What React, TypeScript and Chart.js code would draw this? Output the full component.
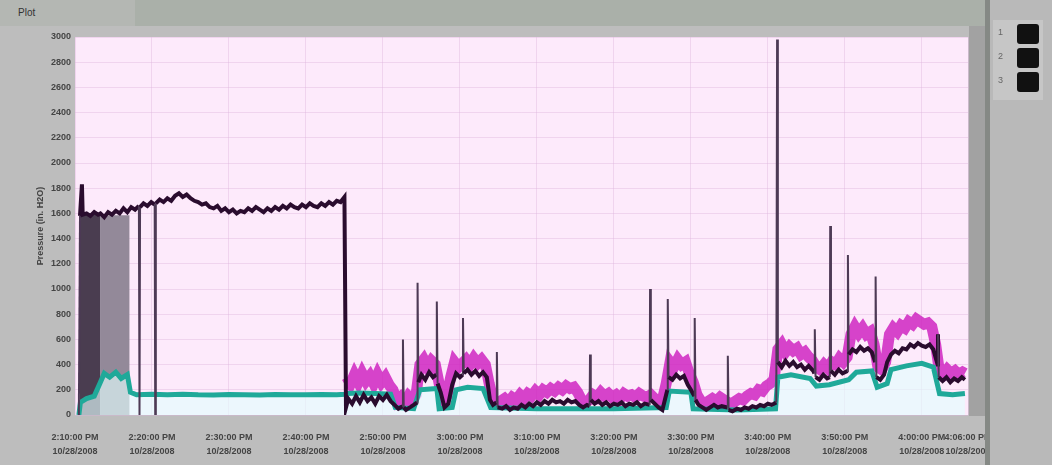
import React, { useEffect, useRef } from "react";
import { Chart, registerables } from "chart.js";
Chart.register(...registerables);

// ---------- data ----------
const yTitle = "Pressure (in. H2O)";
const chartTitle = "Plot";
const legendLabels = ["1", "2", "3"];

const xTickValues = [0, 10, 20, 30, 40, 50, 60, 70, 80, 90, 100, 110, 116];
const xTimeLabels = [
  "2:10:00 PM", "2:20:00 PM", "2:30:00 PM", "2:40:00 PM", "2:50:00 PM", "3:00:00 PM",
  "3:10:00 PM", "3:20:00 PM", "3:30:00 PM", "3:40:00 PM", "3:50:00 PM", "4:00:00 PM", "4:06:00 PM",
];
const xDateLabels = [
  "10/28/2008", "10/28/2008", "10/28/2008", "10/28/2008", "10/28/2008", "10/28/2008",
  "10/28/2008", "10/28/2008", "10/28/2008", "10/28/2008", "10/28/2008", "10/28/2008", "10/28/2008",
];

const darkSeries: [number, number][] = [
  [0.5, 0], [0.65, 1580], [0.9, 1830], [1.0, 1590], [1.5, 1600], [2.0, 1580], [2.5, 1610], [3.0, 1590],
  [3.3, 1600], [3.8, 1570], [4.3, 1610], [4.8, 1590], [5.3, 1620], [5.8, 1600], [6.3, 1640], [6.8, 1610],
  [7.3, 1650], [7.8, 1630], [8.3, 1660], [8.38, 0], [8.45, 1650], [8.9, 1680], [9.4, 1660], [9.9, 1690],
  [10.35, 1670], [10.42, 0], [10.5, 1680], [11.0, 1710], [11.5, 1690], [12.0, 1720], [12.5, 1700],
  [13.0, 1740], [13.5, 1760], [14.0, 1730], [14.5, 1750], [15.0, 1720], [15.5, 1700], [16.0, 1690],
  [16.5, 1670], [17.0, 1680], [17.5, 1650], [18.0, 1640], [18.5, 1660], [19.0, 1620], [19.5, 1640],
  [20.0, 1610], [20.5, 1630], [21.0, 1600], [21.5, 1620], [22.0, 1610], [22.5, 1640], [23.0, 1620],
  [23.5, 1650], [24.0, 1630], [24.5, 1610], [25.0, 1640], [25.5, 1620], [26.0, 1650], [26.5, 1630],
  [27.0, 1660], [27.5, 1640], [28.0, 1670], [28.5, 1650], [29.0, 1640], [29.5, 1670], [30.0, 1650],
  [30.5, 1680], [31.0, 1660], [31.5, 1650], [32.0, 1680], [32.5, 1660], [33.0, 1690], [33.5, 1670],
  [34.0, 1700], [34.5, 1690], [35.0, 1730], [35.2, 60],
  [35.5, 130], [36.0, 90], [36.5, 150], [37.0, 100], [37.5, 160], [38.0, 110], [38.5, 140], [39.0, 90],
  [39.5, 150], [40.0, 120], [40.5, 160], [41.0, 110], [41.5, 80], [42.0, 50], [42.55, 70], [42.6, 600],
  [42.7, 60], [43.0, 40], [43.5, 60], [44.0, 80], [44.45, 100], [44.5, 1050], [44.6, 260], [45.0, 320],
  [45.5, 280], [46.0, 340], [46.5, 300], [46.95, 320], [47.0, 900], [47.1, 250], [47.5, 180], [48.0, 60],
  [48.5, 90], [49.0, 240], [49.5, 330], [50.0, 300], [50.35, 320], [50.4, 770], [50.5, 330], [51.0, 360],
  [51.5, 320], [52.0, 350], [52.5, 310], [53.0, 340], [53.5, 300], [53.9, 120], [54.3, 80], [54.75, 100],
  [54.8, 500], [54.9, 60], [55.5, 50], [56.0, 70], [56.5, 40], [57.0, 60], [57.5, 50], [58.0, 80],
  [58.5, 60], [59.0, 90], [59.5, 70], [60.0, 100], [60.5, 80], [61.0, 110], [61.5, 90], [62.0, 120],
  [62.5, 100], [63.0, 110], [63.5, 90], [64.0, 120], [64.5, 100], [65.0, 110], [65.5, 80], [66.0, 60],
  [66.5, 80], [66.85, 70], [66.9, 480], [67.0, 120], [67.5, 90], [68.0, 110], [68.5, 80], [69.0, 100],
  [69.5, 70], [70.0, 90], [70.5, 80], [71.0, 100], [71.5, 70], [72.0, 90], [72.5, 80], [73.0, 100],
  [73.5, 70], [74.0, 90], [74.65, 80], [74.7, 1000], [74.8, 120], [75.3, 90], [75.8, 60], [76.3, 40],
  [76.95, 200], [77.0, 920], [77.1, 300], [77.6, 280], [78.1, 320], [78.6, 290], [79.1, 310], [79.6, 240],
  [80.0, 200], [80.45, 150], [80.5, 770], [80.6, 120], [81.0, 80], [81.5, 60], [82.0, 40], [82.5, 60],
  [83.0, 80], [83.5, 60], [84.0, 70], [84.75, 60], [84.8, 470], [84.9, 40], [85.4, 30], [86.0, 50],
  [86.5, 40], [87.0, 60], [87.5, 50], [88.0, 70], [88.5, 60], [89.0, 80], [89.5, 70], [90.0, 90],
  [90.5, 80], [91.1, 100], [91.2, 2980], [91.3, 420], [91.8, 380], [92.3, 430], [92.8, 390], [93.3, 420],
  [93.8, 380], [94.3, 400], [94.8, 360], [95.3, 390], [95.9, 350], [96.05, 330], [96.1, 680], [96.2, 300],
  [96.7, 280], [97.2, 320], [97.7, 290], [98.05, 300], [98.1, 1500], [98.2, 350], [98.7, 320], [99.2, 360],
  [99.7, 330], [100.35, 350], [100.4, 1270], [100.5, 480], [101.0, 520], [101.5, 500], [102.0, 540],
  [102.5, 510], [103.0, 530], [103.5, 500], [103.95, 420], [104.0, 1100], [104.1, 300], [104.6, 280],
  [105.1, 320], [105.5, 420], [106.0, 480], [106.5, 510], [107.0, 490], [107.5, 530], [108.0, 520],
  [108.5, 560], [109.0, 540], [109.5, 570], [110.0, 550], [110.5, 540], [111.0, 560], [111.5, 520],
  [112.05, 400], [112.1, 640], [112.2, 300], [112.7, 270], [113.2, 300], [113.7, 260], [114.2, 290],
  [114.7, 270], [115.2, 300], [115.6, 280],
];

const magentaSeries: [number, number][] = [
  [35.3, 300], [35.8, 250], [36.3, 320], [36.8, 260], [37.3, 330], [37.8, 270], [38.3, 310], [38.8, 250],
  [39.3, 320], [39.8, 260], [40.3, 300], [40.8, 240], [41.3, 200], [41.8, 110], [42.3, 140], [42.8, 100],
  [43.3, 150], [43.8, 120], [44.3, 160], [44.8, 400], [45.3, 440], [45.8, 380], [46.3, 430], [46.8, 400],
  [47.3, 250], [47.8, 120], [48.3, 150], [48.8, 300], [49.3, 420], [49.8, 380], [50.3, 410], [50.8, 440],
  [51.3, 400], [51.8, 450], [52.3, 410], [52.8, 440], [53.3, 400], [53.8, 250], [54.3, 120], [54.8, 100],
  [55.3, 110], [55.8, 130], [56.3, 100], [56.8, 140], [57.3, 120], [57.8, 160], [58.3, 130], [58.8, 170],
  [59.3, 150], [59.8, 190], [60.3, 160], [60.8, 200], [61.3, 180], [61.8, 210], [62.3, 190], [62.8, 220],
  [63.3, 200], [63.8, 230], [64.3, 210], [64.8, 220], [65.3, 180], [65.8, 120], [66.3, 100], [66.8, 120],
  [67.3, 160], [67.8, 140], [68.3, 180], [68.8, 150], [69.3, 170], [69.8, 140], [70.3, 160], [70.8, 130],
  [71.3, 170], [71.8, 150], [72.3, 160], [72.8, 140], [73.3, 170], [73.8, 150], [74.3, 140], [74.8, 160],
  [75.3, 130], [75.8, 100], [76.3, 120], [76.8, 250], [77.3, 420], [77.8, 380], [78.3, 440], [78.8, 400],
  [79.3, 420], [79.8, 330], [80.3, 260], [80.8, 160], [81.3, 110], [81.8, 90], [82.3, 110], [82.8, 130],
  [83.3, 110], [83.8, 140], [84.3, 120], [84.8, 100], [85.3, 90], [85.8, 110], [86.3, 130], [86.8, 120],
  [87.3, 150], [87.8, 170], [88.3, 160], [88.8, 200], [89.3, 190], [89.8, 230], [90.3, 250], [90.8, 280],
  [91.3, 520], [91.8, 560], [92.3, 500], [92.8, 540], [93.3, 510], [93.8, 530], [94.3, 480], [94.8, 500],
  [95.3, 460], [95.8, 430], [96.3, 380], [96.8, 360], [97.3, 400], [97.8, 370], [98.3, 420], [98.8, 400],
  [99.3, 450], [99.8, 420], [100.3, 460], [100.8, 640], [101.3, 700], [101.8, 650], [102.3, 690],
  [102.8, 640], [103.3, 660], [103.8, 560], [104.3, 380], [104.8, 360], [105.3, 420], [105.8, 640],
  [106.3, 690], [106.8, 660], [107.3, 710], [107.8, 690], [108.3, 740], [108.8, 720], [109.3, 760],
  [109.8, 740], [110.3, 720], [110.8, 730], [111.3, 700], [111.8, 560], [112.3, 340], [112.8, 320],
  [113.3, 360], [113.8, 330], [114.3, 350], [114.8, 320], [115.3, 340], [115.6, 330],
];

const tealSeries: [number, number][] = [
  [0.5, 0], [0.7, 100], [1.5, 130], [2.5, 150], [3.3, 260], [3.8, 330], [4.5, 300], [5.3, 340], [6.0, 290],
  [6.8, 320], [7.2, 180], [8, 160], [10, 165], [12, 160], [14, 165], [16, 160], [18, 158], [20, 162],
  [22, 160], [24, 158], [26, 162], [28, 160], [30, 160], [32, 162], [34, 160], [35.1, 165], [35.3, 170],
  [37, 175], [39, 170], [41, 165], [41.6, 60], [44, 50], [44.8, 200], [47, 210], [47.3, 50], [49, 60],
  [49.5, 200], [51, 220], [53, 210], [54, 60], [60, 50], [66, 50], [70, 50], [76.8, 60], [77.2, 190],
  [80, 180], [80.3, 50], [86, 40], [91, 50], [91.3, 300], [93, 320], [95.5, 290], [96.3, 230], [98, 240],
  [100.5, 280], [101.5, 340], [103.5, 350], [104.2, 220], [105.5, 250], [106, 360], [108, 390], [110, 410],
  [111.5, 380], [112.3, 170], [114, 160], [115.6, 170],
];

const darkBlock: [number, number][] = [[0.65, 1600], [3.25, 1600]];
const lightBlock: [number, number][] = [[3.25, 1585], [7.1, 1585]];

// ---------- component ----------
const toXY = (arr: [number, number][]) => arr.map(([x, y]) => ({ x, y }));

const isSpike = (c: any) =>
  Math.abs(c.p1.parsed.y - c.p0.parsed.y) > 250 && Math.abs(c.p1.parsed.x - c.p0.parsed.x) < 0.2;

const plotBg = {
  id: "plotBg",
  beforeDraw(chart: any) {
    const { ctx, chartArea } = chart;
    ctx.save();
    ctx.fillStyle = "#fdeafb";
    ctx.fillRect(chartArea.left, chartArea.top, chartArea.right - chartArea.left, chartArea.bottom - chartArea.top);
    ctx.restore();
  },
};

export default function App() {
  const ref = useRef<HTMLCanvasElement>(null);

  useEffect(() => {
    if (!ref.current) return;
    const tickFont = { family: "'Liberation Sans', Arial, sans-serif", size: 9, weight: "bold" as const, lineHeight: 1.5 };
    const chart = new Chart(ref.current, {
      type: "line",
      data: {
        datasets: [
          {
            data: toXY(darkSeries), borderColor: "#2a0c2e", borderWidth: 4, pointRadius: 0, tension: 0, fill: false,
            segment: {
              borderWidth: (c: any) => (isSpike(c) ? 2 : undefined),
              borderColor: (c: any) => (isSpike(c) ? "#4d3a55" : undefined),
            },
          },
          {
            data: toXY(tealSeries), borderColor: "#1fa999", borderWidth: 5, pointRadius: 0, tension: 0,
            fill: "origin", backgroundColor: "rgba(228,253,253,0.65)",
          },
          {
            data: toXY(magentaSeries), borderColor: "rgba(205,30,190,0.82)", borderWidth: 11, pointRadius: 0, tension: 0, fill: false,
          },
          {
            data: toXY(darkBlock), borderWidth: 0, borderColor: "transparent", pointRadius: 0, fill: "origin", backgroundColor: "#4a3d50",
          },
          {
            data: toXY(lightBlock), borderWidth: 0, borderColor: "transparent", pointRadius: 0, fill: "origin", backgroundColor: "#938999",
          },
        ],
      },
      options: {
        animation: false,
        responsive: false,
        maintainAspectRatio: false,
        layout: { padding: { top: 37, right: 52, left: 0, bottom: 0 } },
        plugins: { legend: { display: false }, tooltip: { enabled: false } },
        scales: {
          x: {
            type: "linear",
            min: 0,
            max: 116,
            afterBuildTicks: (scale: any) => {
              scale.ticks = xTickValues.map((v) => ({ value: v }));
            },
            afterFit: (scale: any) => {
              scale.height = 50;
            },
            grid: { color: "rgba(220,180,220,0.4)", drawTicks: false },
            border: { display: false },
            ticks: {
              autoSkip: false,
              maxRotation: 0,
              padding: 16,
              font: tickFont,
              color: "#444",
              callback: (_v: any, i: number) => [xTimeLabels[i], xDateLabels[i]],
            },
          },
          y: {
            min: 0,
            max: 3000,
            afterFit: (scale: any) => {
              scale.width = 75;
            },
            grid: { color: "rgba(220,180,220,0.4)", drawTicks: false },
            border: { display: false },
            ticks: { stepSize: 200, padding: 4, font: tickFont, color: "#444", callback: (v: any) => String(v) },
            title: {
              display: true,
              text: yTitle,
              color: "#444",
              font: { family: "'Liberation Sans', Arial, sans-serif", size: 9, weight: "bold" },
              padding: { top: 35, bottom: 0 },
            },
          },
        },
      },
      plugins: [plotBg],
    });
    return () => chart.destroy();
  }, []);

  return (
    <div style={{ position: "fixed", left: 0, top: 0, width: 1052, height: 465, background: "#bdbdbd", overflow: "hidden" }}>
      <div style={{ position: "absolute", left: 0, top: 0, width: 1052, height: 26, background: "#aab0a9" }} />
      <div style={{ position: "absolute", left: 0, top: 0, width: 135, height: 26, background: "#b4b7b3" }} />
      <div style={{ position: "absolute", left: 18, top: 7, fontFamily: "'Liberation Sans', Arial, sans-serif", fontSize: 10, color: "#333" }}>
        {chartTitle}
      </div>
      <canvas ref={ref} width={1020} height={465} style={{ position: "absolute", left: 0, top: 0, width: 1020, height: 465 }} />
      <div style={{ position: "absolute", left: 969, top: 26, width: 16, height: 390, background: "#a2a2a2" }} />
      <div style={{ position: "absolute", left: 985, top: 0, width: 5, height: 465, background: "#858985" }} />
      <div style={{ position: "absolute", left: 990, top: 0, width: 62, height: 465, background: "#b9b9b9" }} />
      <div style={{ position: "absolute", left: 993, top: 20, width: 50, height: 80, background: "#c6c6c6" }}>
        {legendLabels.map((l, i) => (
          <div key={l} style={{ position: "absolute", left: 0, top: 4 + i * 24, width: 50, height: 20 }}>
            <span style={{ position: "absolute", left: 5, top: 3, fontFamily: "'Liberation Sans', Arial, sans-serif", fontSize: 9, color: "#666" }}>
              {l}
            </span>
            <div style={{ position: "absolute", left: 24, top: 0, width: 22, height: 20, background: "#111", borderRadius: 3 }} />
          </div>
        ))}
      </div>
    </div>
  );
}
